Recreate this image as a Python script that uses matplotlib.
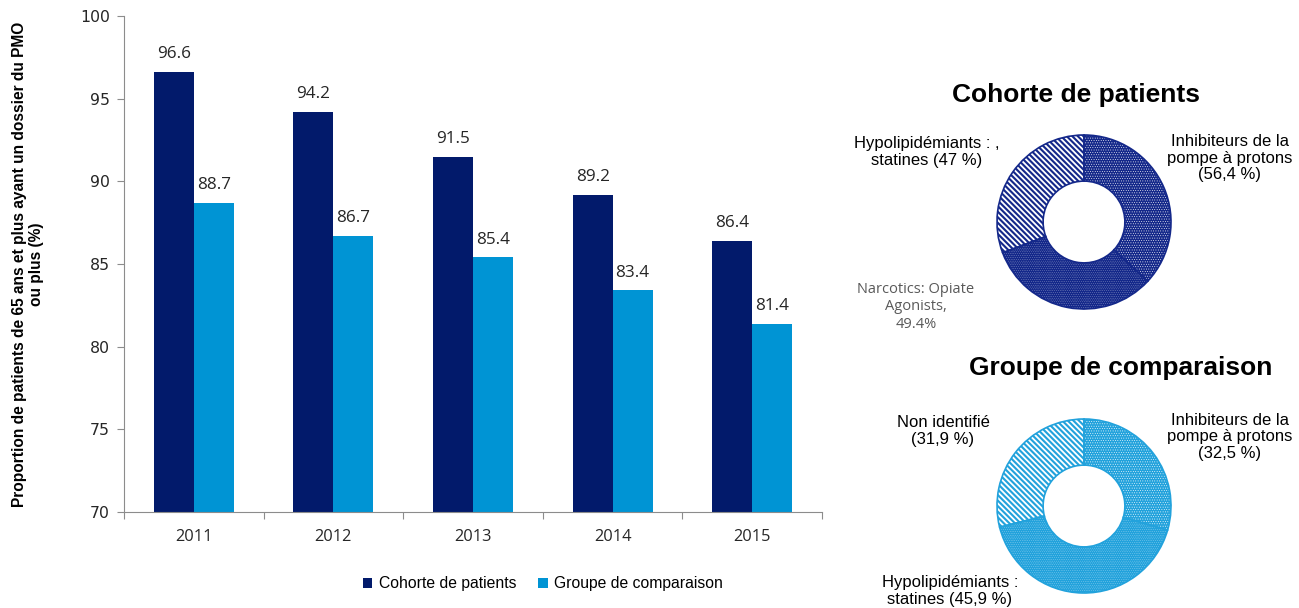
import matplotlib
matplotlib.use("Agg")
import matplotlib.pyplot as plt
import numpy as np

# bar chart data
years = ["2011", "2012", "2013", "2014", "2015"]
cohorte = [96.6, 94.2, 91.5, 89.2, 86.4]
comparaison = [88.7, 86.7, 85.4, 83.4, 81.4]

# donut data (clockwise from 12 o'clock)
cohorte_parts = [56.4, 49.4, 47.0]
comparaison_parts = [32.5, 45.9, 31.9]

NAVY = "#021a6b"
BLUE = "#0094d4"
DONUT_NAVY = "#14288a"
DONUT_BLUE = "#22a2dc"
AXIS_GREY = "#8c8c8c"
TXT = "#262626"

W, H = 1299, 608
fig = plt.figure(figsize=(W / 100, H / 100), dpi=100)


def fx(px):
    return px / W


def fy(py):
    return 1 - py / H


# ---- bar chart ----
ax = fig.add_axes([fx(124), fy(512), fx(822) - fx(124), fy(16) - fy(512)])
x = np.arange(len(years))
bw = 0.287
b1 = ax.bar(x - bw / 2, cohorte, bw, color=NAVY, label="Cohorte de patients")
b2 = ax.bar(x + bw / 2, comparaison, bw, color=BLUE, label="Groupe de comparaison")
for bars, vals in [(b1, cohorte), (b2, comparaison)]:
    for r, v in zip(bars, vals):
        ax.annotate(f"{v:.1f}", (r.get_x() + r.get_width() / 2, v),
                    xytext=(0, 7), textcoords="offset points",
                    ha="center", va="bottom", fontsize=12.3,
                    family="Open Sans", color=TXT)

ax.set_ylim(70, 100)
ax.set_xlim(-0.5, len(years) - 0.5)
ax.set_yticks(range(70, 101, 5))
ax.tick_params(axis="y", direction="out", length=5, color=AXIS_GREY,
               labelsize=11.3, labelcolor=TXT, pad=5)
ax.set_xticks(np.arange(-0.5, len(years), 1.0))
ax.set_xticklabels([])
ax.tick_params(axis="x", which="major", direction="out", length=5, color=AXIS_GREY)
ax.set_xticks(x, minor=True)
ax.set_xticklabels(years, minor=True)
ax.tick_params(axis="x", which="minor", length=0, labelsize=11.8,
               labelcolor=TXT, pad=12)
for lab in ax.get_yticklabels():
    lab.set_family("DejaVu Sans")
for lab in ax.get_xticklabels(minor=True):
    lab.set_family("Open Sans")
for s in ["top", "right"]:
    ax.spines[s].set_visible(False)
for s in ["left", "bottom"]:
    ax.spines[s].set_color(AXIS_GREY)

fig.text(fx(28), fy(264),
         "Proportion de patients de 65 ans et plus ayant un dossier du PMO\nou plus (%)",
         rotation=90, ha="center", va="center", fontsize=11.2,
         fontweight="bold", family="Liberation Sans", color="black",
         linespacing=1.1)

leg = ax.legend(loc="center", bbox_to_anchor=(0.60, -0.145), ncol=2,
                frameon=False, handlelength=0.6, handleheight=0.6,
                handletextpad=0.4, columnspacing=1.4,
                prop={"family": "Liberation Sans", "size": 11.3})


# ---- donuts ----
def set_hlw(patch, lw):
    if hasattr(patch, "set_hatch_linewidth"):
        patch.set_hatch_linewidth(lw)
    else:
        patch._hatch_linewidth = lw


def donut(cx, cy, parts, color, title, tx, ty):
    r = 87
    size = 2.3 * r
    dax = fig.add_axes([fx(cx - size / 2), fy(cy + size / 2), fx(size), size / H])
    hatches = [".......", ".........", "\\\\\\\\\\\\"]
    hlw = [0.3, 0.1, 1.3]
    wedges, _ = dax.pie(parts, startangle=90, counterclock=False, radius=1,
                        colors=[color] * 3,
                        wedgeprops=dict(width=0.53, edgecolor="white", linewidth=0))
    for w, h, lw in zip(wedges, hatches, hlw):
        w.set_hatch(h)
        set_hlw(w, lw)
    dax.pie(parts, startangle=90, counterclock=False, radius=1,
            colors=["none"] * 3,
            wedgeprops=dict(width=0.53, edgecolor=color, linewidth=1.2))
    dax.set_xlim(-1.15, 1.15)
    dax.set_ylim(-1.15, 1.15)
    dax.set_aspect("equal")
    dax.axis("off")
    fig.text(fx(tx), fy(ty), title, ha="center", va="center", fontsize=19,
             fontweight="bold", family="Liberation Sans", color="black")
    return dax


donut(1084, 222, cohorte_parts, DONUT_NAVY, "Cohorte de patients", 1076, 95)
donut(1084, 506, comparaison_parts, DONUT_BLUE, "Groupe de comparaison", 1121, 368)

lab_kw = dict(ha="center", va="center", fontsize=12, family="Liberation Sans",
              color="black", linespacing=1.1)
fig.text(fx(927), fy(152), "Hypolipidémiants : ,\nstatines (47 %)", **lab_kw)
fig.text(fx(1230), fy(158), "Inhibiteurs de la\npompe à protons\n(56,4 %)", **lab_kw)
fig.text(fx(916), fy(307), "Narcotics: Opiate\nAgonists,\n49.4%", ha="center",
         va="center", fontsize=10.5, family="Open Sans", color="#595959",
         linespacing=1.2)
fig.text(fx(943), fy(431), "Non identifié\n(31,9 %)", **lab_kw)
fig.text(fx(1230), fy(437), "Inhibiteurs de la\npompe à protons\n(32,5 %)", **lab_kw)
fig.text(fx(950), fy(591), "Hypolipidémiants :\nstatines (45,9 %)", **lab_kw)

fig.savefig("out.png", dpi=100)
